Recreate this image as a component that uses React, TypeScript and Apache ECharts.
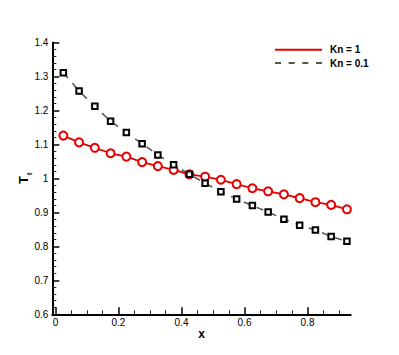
import React, { useEffect, useRef } from "react";
import * as echarts from "echarts";

const xValues = [0.025, 0.075, 0.125, 0.175, 0.225, 0.275, 0.325, 0.375, 0.425, 0.475, 0.525, 0.575, 0.625, 0.675, 0.725, 0.775, 0.825, 0.875, 0.925];
const kn1Values = [1.126, 1.106, 1.09, 1.074, 1.064, 1.048, 1.036, 1.025, 1.012, 1.005, 0.996, 0.983, 0.971, 0.962, 0.953, 0.942, 0.93, 0.922, 0.909];
const kn01Values = [1.311, 1.257, 1.212, 1.168, 1.135, 1.102, 1.069, 1.04, 1.012, 0.986, 0.961, 0.939, 0.92, 0.901, 0.88, 0.862, 0.848, 0.829, 0.815];
const xTickValues = [0, 0.2, 0.4, 0.6, 0.8];
const yTickValues = [0.6, 0.7, 0.8, 0.9, 1.0, 1.1, 1.2, 1.3, 1.4];
const seriesNames = ["Kn = 1", "Kn = 0.1"];

const FONT = "'Liberation Sans', Arial, Helvetica, sans-serif";

export default function App() {
  const ref = useRef<HTMLDivElement>(null);
  useEffect(() => {
    if (!ref.current) return;
    const chart = echarts.init(ref.current, null, { renderer: "svg" });
    const red = "#e60000";
    const gray = "#555555";
    chart.setOption({
      animation: false,
      backgroundColor: "#ffffff",
      textStyle: { fontFamily: FONT },
      grid: { left: 52.3, right: 48.3, top: 42.5, bottom: 40.7, containLabel: false },
      legend: {
        orient: "vertical",
        left: 275,
        top: 43,
        padding: 0,
        itemWidth: 47,
        itemHeight: 2,
        itemGap: 0,
        selectedMode: false,
        textStyle: { fontFamily: FONT, fontSize: 10, fontWeight: "bold", color: "#000", lineHeight: 13.4, padding: [0, 0, 0, 3] },
        data: [
          { name: seriesNames[0], icon: "rect", itemStyle: { color: red, borderWidth: 0 } },
          {
            name: seriesNames[1],
            icon: "path://M0,0h6v2h-6z M13.7,0h6v2h-6z M27.3,0h6v2h-6z M41,0h6v2h-6z",
            itemStyle: { color: gray, borderWidth: 0 },
          },
        ],
      },
      xAxis: {
        type: "value",
        min: -0.01,
        max: 0.937,
        name: "x",
        nameLocation: "middle",
        nameGap: 14,
        nameMoveOverlap: false,
        nameTextStyle: { fontFamily: FONT, fontSize: 12, fontWeight: "bold", color: "#000" },
        axisLine: { show: true, onZero: false, lineStyle: { color: "#000", width: 2 } },
        axisTick: { show: true, inside: true, length: 7, customValues: xTickValues, lineStyle: { color: "#000", width: 1.5 } },
        minorTick: { show: true, splitNumber: 4, length: 4, lineStyle: { color: "#222", width: 1 } },
        axisLabel: { customValues: xTickValues, fontFamily: FONT, fontSize: 10, color: "#000", margin: 3 },
        splitLine: { show: false },
      },
      yAxis: {
        type: "value",
        min: 0.6,
        max: 1.4,
        interval: 0.1,
        name: "{t|T}{s|t}",
        nameLocation: "middle",
        nameRotate: 90,
        nameGap: 22,
        nameMoveOverlap: false,
        nameTextStyle: {
          rich: {
            t: { fontFamily: FONT, fontSize: 13, fontWeight: "bold", color: "#000", lineHeight: 14, verticalAlign: "bottom" },
            s: { fontFamily: FONT, fontSize: 7, fontWeight: "bold", color: "#000", lineHeight: 14, verticalAlign: "bottom", padding: [0, 0, -3, 1] },
          },
        },
        axisLine: { show: true, onZero: false, lineStyle: { color: "#000", width: 2 } },
        axisTick: { show: true, inside: true, length: 7, customValues: yTickValues, lineStyle: { color: "#000", width: 1.5 } },
        minorTick: { show: true, splitNumber: 5, length: 4, lineStyle: { color: "#222", width: 1 } },
        axisLabel: { fontFamily: FONT, fontSize: 10, color: "#000", margin: 4 },
        splitLine: { show: false },
      },
      series: [
        {
          name: seriesNames[1],
          type: "line",
          data: xValues.map((x, i) => [x, kn01Values[i]]),
          symbol: "emptyRect",
          symbolSize: 5.5,
          lineStyle: { color: gray, width: 1.5, type: [7, 7] },
          itemStyle: { color: "#000", borderColor: "#000", borderWidth: 1.4 },
          z: 3,
        },
        {
          name: seriesNames[0],
          type: "line",
          data: xValues.map((x, i) => [x, kn1Values[i]]),
          symbol: "emptyCircle",
          symbolSize: 8,
          lineStyle: { color: red, width: 1.8 },
          itemStyle: { color: red, borderColor: red, borderWidth: 1.5 },
          z: 2,
        },
      ],
    });
    return () => chart.dispose();
  }, []);
  return <div ref={ref} style={{ position: "fixed", left: 0, top: 0, width: 399, height: 355 }} />;
}
